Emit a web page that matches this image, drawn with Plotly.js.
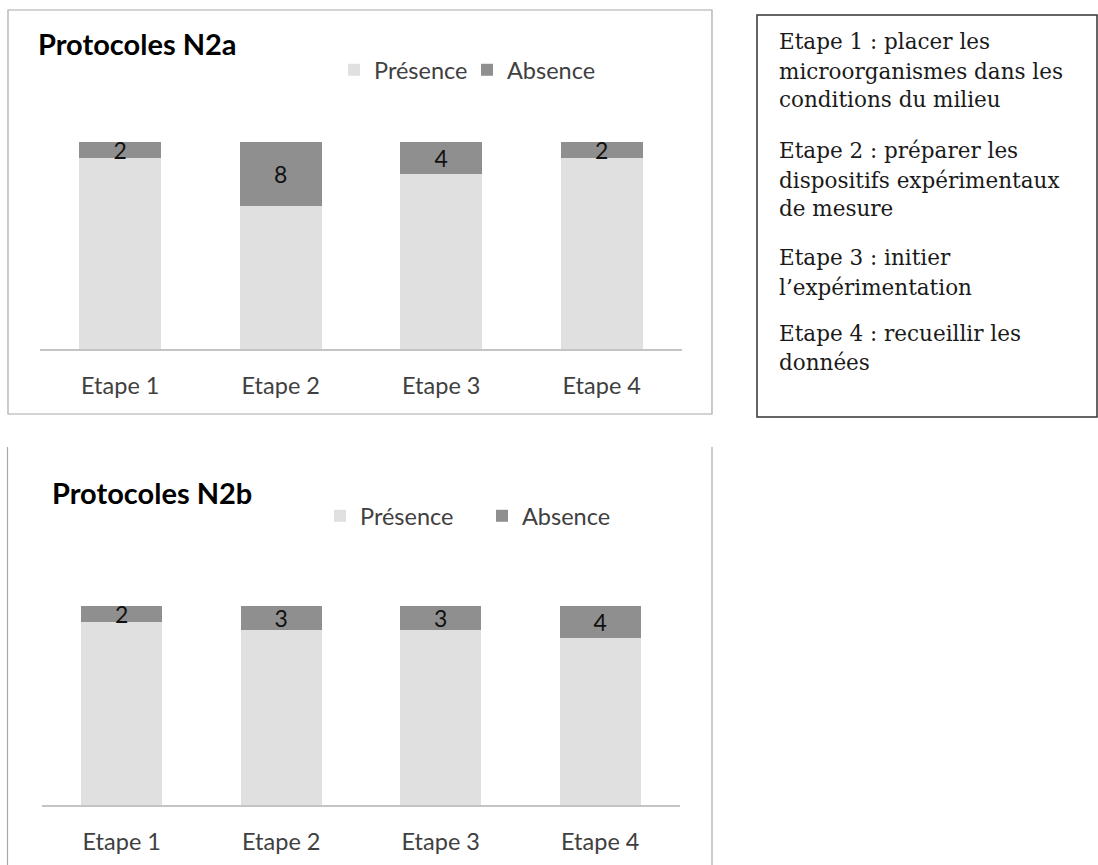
<!DOCTYPE html>
<html><head><meta charset="utf-8">
<script src="https://cdn.plot.ly/plotly-3.0.1.min.js"></script>
<style>html,body{margin:0;padding:0;background:#fff}#chart{width:1098px;height:865px}</style>
</head><body><div id="chart"></div>
<script>
// ---- data ----
const categories = ['Etape 1', 'Etape 2', 'Etape 3', 'Etape 4'];
const seriesNames = ['Présence', 'Absence'];
const presenceN2a = [24, 18, 22, 24];
const absenceN2a = [2, 8, 4, 2];
const presenceN2b = [23, 22, 22, 21];
const absenceN2b = [2, 3, 3, 4];
const chartTitles = ['Protocoles N2a', 'Protocoles N2b'];
const noteLines = [
  'Etape 1 : placer les',
  'microorganismes dans les',
  'conditions du milieu',
  'Etape 2 : préparer les',
  'dispositifs expérimentaux',
  'de mesure',
  'Etape 3 : initier',
  'l\u2019expérimentation',
  'Etape 4 : recueillir les',
  'données'
];

// ---- layout helpers ----
const W = 1098, H = 865;
const px = v => v / W;
const py = v => 1 - v / H;
const SANS = 'Lato, "Open Sans", sans-serif';
const SERIF = '"DejaVu Serif", serif';
const colPres = '#e0e0e0', colAbs = '#8f8f8f';

function total(a, b) { return Math.max(...a.map((v, i) => v + b[i])); }

function pair(pres, abs, xa, ya, leg) {
  return [
    {type: 'bar', x: categories, y: pres, name: seriesNames[0], xaxis: xa, yaxis: ya, legend: leg,
     marker: {color: colPres}, hoverinfo: 'skip'},
    {type: 'bar', x: categories, y: abs, name: seriesNames[1], xaxis: xa, yaxis: ya, legend: leg,
     marker: {color: colAbs}, hoverinfo: 'skip',
     text: abs.map(String), textposition: 'inside', insidetextanchor: 'middle',
     textangle: 0, constraintext: 'none', cliponaxis: false,
     insidetextfont: {family: SANS, size: 23, color: '#111'}}
  ];
}

const data = [
  ...pair(presenceN2a, absenceN2a, 'x', 'y', 'legend'),
  ...pair(presenceN2b, absenceN2b, 'x2', 'y2', 'legend2')
];

const xAxisBase = {
  type: 'category', showgrid: false, zeroline: false, ticks: '',
  showline: true, linecolor: '#c4c4c4', linewidth: 2,
  tickfont: {family: SANS, size: 23.5, color: '#404040'},
  ticklabelstandoff: 15, fixedrange: true
};
const yAxisBase = {visible: false, showgrid: false, zeroline: false, fixedrange: true};

const legendBase = {
  orientation: 'h', xanchor: 'left', yanchor: 'middle',
  font: {family: SANS, size: 23.5, color: '#404040'},
  bgcolor: 'rgba(0,0,0,0)', borderwidth: 0, traceorder: 'normal',
  entrywidthmode: 'pixels'
};

const annotations = [
  {text: '<b>' + chartTitles[0] + '</b>', xref: 'paper', yref: 'paper', x: px(36), y: py(44),
   xanchor: 'left', yanchor: 'middle', showarrow: false, font: {family: SANS, size: 29, color: '#000'}},
  {text: '<b>' + chartTitles[1] + '</b>', xref: 'paper', yref: 'paper', x: px(50), y: py(492),
   xanchor: 'left', yanchor: 'middle', showarrow: false, font: {family: SANS, size: 29, color: '#000'}}
];
const lineY = [42, 71, 99, 150, 180, 209, 257, 287, 334, 362];
noteLines.forEach((t, i) => annotations.push({
  text: t, xref: 'paper', yref: 'paper', x: px(777), y: py(lineY[i]),
  xanchor: 'left', yanchor: 'middle', align: 'left', showarrow: false,
  font: {family: SERIF, size: 21.5, color: '#1a1a1a'}
}));

const shapes = [
  {type: 'rect', xref: 'paper', yref: 'paper', x0: px(8), x1: px(712), y0: py(10), y1: py(414),
   line: {color: '#a8a8a8', width: 1.2}},
  {type: 'line', xref: 'paper', yref: 'paper', x0: px(7.5), x1: px(7.5), y0: py(447), y1: 0,
   line: {color: '#a8a8a8', width: 1.2}},
  {type: 'line', xref: 'paper', yref: 'paper', x0: px(712), x1: px(712), y0: py(447), y1: 0,
   line: {color: '#a8a8a8', width: 1.2}},
  {type: 'rect', xref: 'paper', yref: 'paper', x0: px(757), x1: px(1097), y0: py(15), y1: py(417),
   line: {color: '#333333', width: 1.5}}
];

const layout = {
  width: W, height: H,
  margin: {l: 0, r: 0, t: 0, b: 0},
  paper_bgcolor: '#ffffff', plot_bgcolor: 'rgba(0,0,0,0)',
  barmode: 'stack', bargap: 0.49,
  showlegend: true,
  xaxis: Object.assign({}, xAxisBase, {domain: [px(40), px(682)], anchor: 'y'}),
  yaxis: Object.assign({}, yAxisBase, {domain: [py(349), py(142)], range: [0, total(presenceN2a, absenceN2a)], anchor: 'x'}),
  xaxis2: Object.assign({}, xAxisBase, {domain: [px(42), px(680)], anchor: 'y2'}),
  yaxis2: Object.assign({}, yAxisBase, {domain: [py(805), py(606)], range: [0, total(presenceN2b, absenceN2b)], anchor: 'x2'}),
  legend: Object.assign({}, legendBase, {x: px(334), y: py(70), entrywidth: 88}),
  legend2: Object.assign({}, legendBase, {x: px(320), y: py(516), entrywidth: 117}),
  annotations: annotations,
  shapes: shapes
};

Plotly.newPlot('chart', data, layout, {displayModeBar: false, staticPlot: true});
</script>
</body></html>
